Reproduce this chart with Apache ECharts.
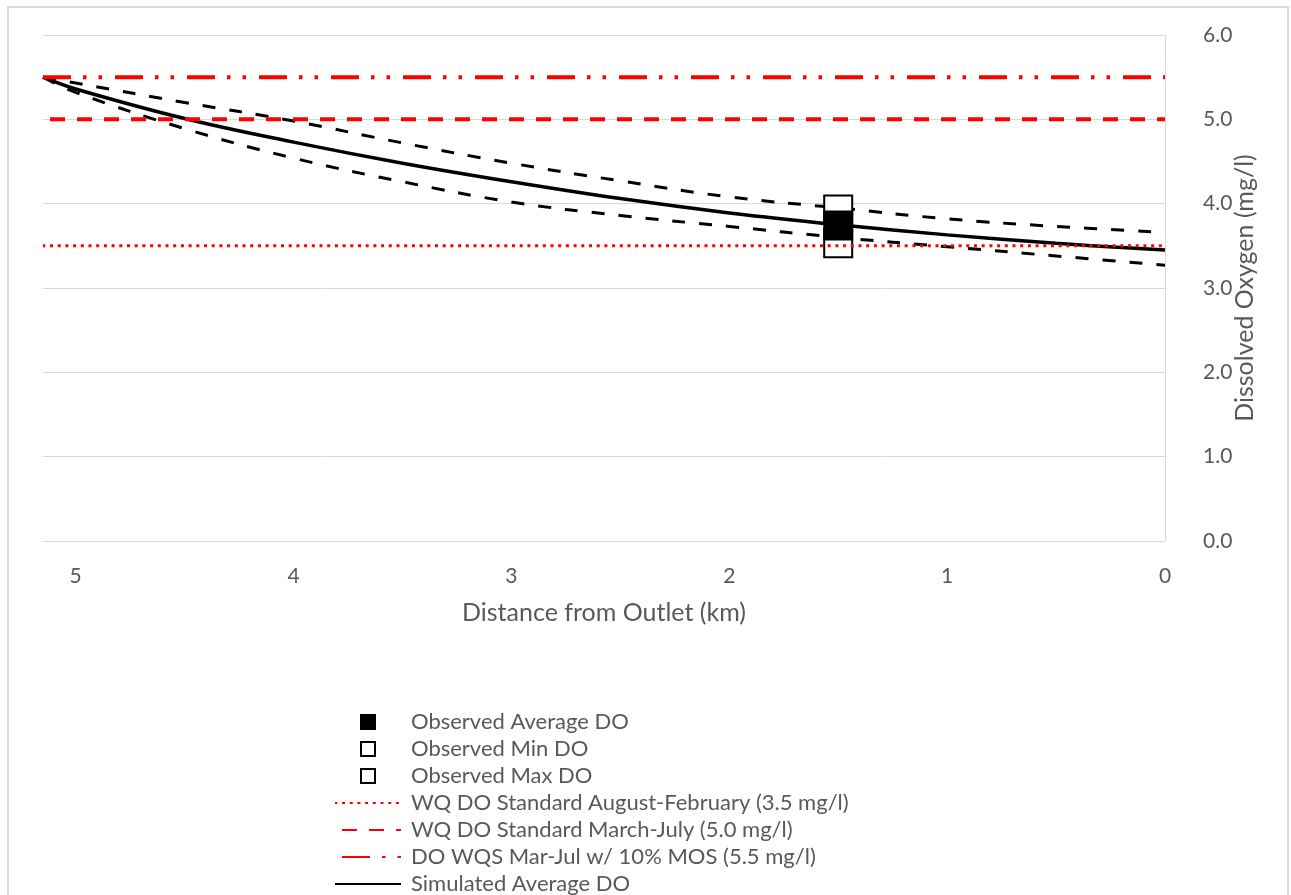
<!DOCTYPE html>
<html>
<head>
<meta charset="utf-8">
<script src="https://cdn.jsdelivr.net/npm/echarts@6/dist/echarts.min.js"></script>
<style>
  html, body { margin: 0; padding: 0; background: #ffffff; overflow: hidden; }
  #chart { width: 1291px; height: 960px; }
</style>
</head>
<body>
<div id="chart"></div>
<script>
// Distance from outlet (km) for the simulated profiles
const distances = [5.15, 5.0, 4.5, 4.0, 3.5, 3.0, 2.5, 2.0, 1.5, 1.0, 0.5, 0.0];
// Simulated dissolved oxygen (mg/l)
const simAverage = [5.50, 5.36, 5.01, 4.73, 4.48, 4.26, 4.06, 3.89, 3.75, 3.63, 3.53, 3.45];
const simUpper   = [5.50, 5.43, 5.20, 4.98, 4.72, 4.48, 4.27, 4.08, 3.95, 3.82, 3.73, 3.66];
const simLower   = [5.50, 5.32, 4.89, 4.54, 4.26, 4.02, 3.86, 3.73, 3.60, 3.49, 3.38, 3.27];

// Observed station
const obsDistance = 1.5;
const obsAverage = 3.74;
const obsMin = 3.53;
const obsMax = 3.93;

// Water-quality standards (mg/l)
const stdAugFeb = 3.5;
const stdMarJul = 5.0;
const stdMos = 5.5;
const xExtent = [0, 5.15];

const seriesNames = [
  'Observed Average DO',
  'Observed Min DO',
  'Observed Max DO',
  'WQ DO Standard August-February (3.5 mg/l)',
  'WQ DO Standard March-July (5.0 mg/l)',
  'DO WQS Mar-Jul w/ 10% MOS (5.5 mg/l)',
  'Simulated Average DO'
];

const pairs = (xs, ys) => xs.map((x, i) => [x, ys[i]]);
const flat = (v) => [[xExtent[1], v], [xExtent[0], v]];

const font = 'Lato, "Open Sans", sans-serif';
const grey = '#595959';
const gridGrey = '#d9d9d9';
const squareIcon = 'path://M0,0L10,0L10,10L0,10Z';
const noMarker = { color: 'rgba(0,0,0,0)', borderColor: 'rgba(0,0,0,0)', borderWidth: 0 };

const chart = echarts.init(document.getElementById('chart'), null, { renderer: 'canvas' });

chart.setOption({
  animation: false,
  backgroundColor: '#ffffff',
  graphic: [{
    type: 'rect',
    shape: { x: 8, y: 7, width: 1280, height: 1000 },
    style: { fill: 'none', stroke: gridGrey, lineWidth: 2 },
    silent: true, z: -1
  }],
  grid: { left: 43, right: 126, top: 35, bottom: 419, containLabel: false },
  xAxis: {
    type: 'value',
    inverse: true,
    min: xExtent[0],
    max: xExtent[1],
    interval: 1,
    name: 'Distance from Outlet (km)',
    nameLocation: 'middle',
    nameGap: 59,
    nameMoveOverlap: false,
    nameTextStyle: { color: grey, fontSize: 25, fontFamily: font },
    axisLine: { show: true, lineStyle: { color: gridGrey, width: 1 } },
    axisTick: { show: false },
    splitLine: { show: false },
    axisLabel: {
      color: grey, fontSize: 21, fontFamily: font, margin: 25,
      showMaxLabel: false,
      formatter: (v) => (Math.abs(v - Math.round(v)) < 1e-9 ? String(Math.round(v)) : '')
    }
  },
  yAxis: {
    type: 'value',
    position: 'right',
    min: 0,
    max: 6,
    interval: 1,
    name: 'Dissolved Oxygen (mg/l)',
    nameLocation: 'middle',
    nameRotate: 90,
    nameGap: 67,
    nameMoveOverlap: false,
    nameTextStyle: { color: grey, fontSize: 25, fontFamily: font },
    axisLine: { show: true, lineStyle: { color: gridGrey, width: 1 } },
    axisTick: { show: false },
    splitLine: { show: true, lineStyle: { color: gridGrey, width: 1 } },
    axisLabel: {
      color: grey, fontSize: 21, fontFamily: font, margin: 38,
      formatter: (v) => v.toFixed(1)
    }
  },
  legend: {
    orient: 'vertical',
    left: 329,
    top: 706,
    itemWidth: 66,
    itemHeight: 14,
    itemGap: 5,
    data: [
      { name: seriesNames[0], icon: squareIcon },
      { name: seriesNames[1], icon: squareIcon },
      { name: seriesNames[2], icon: squareIcon },
      seriesNames[3], seriesNames[4], seriesNames[5], seriesNames[6]
    ],
    textStyle: { color: grey, fontSize: 22, fontFamily: font, lineHeight: 22, padding: [0, 0, 0, 5] },
    selectedMode: false
  },
  series: [
    {
      name: 'Simulated Upper DO', type: 'line', data: pairs(distances, simUpper),
      smooth: 0.4, symbol: 'none', z: 2, itemStyle: noMarker,
      lineStyle: { color: '#000000', width: 3, type: [13, 14], cap: 'butt' }
    },
    {
      name: 'Simulated Lower DO', type: 'line', data: pairs(distances, simLower),
      smooth: 0.4, symbol: 'none', z: 2, itemStyle: noMarker,
      lineStyle: { color: '#000000', width: 3, type: [13, 14], cap: 'butt' }
    },
    {
      name: seriesNames[6], type: 'line', data: pairs(distances, simAverage),
      smooth: 0.4, symbol: 'none', z: 2, itemStyle: noMarker,
      lineStyle: { color: '#000000', width: 3.5 }
    },
    {
      name: seriesNames[1], type: 'scatter', data: [[obsDistance, obsMin]],
      symbol: 'rect', symbolSize: 28, z: 3,
      itemStyle: { color: '#ffffff', borderColor: '#000000', borderWidth: 2, opacity: 1 }
    },
    {
      name: seriesNames[2], type: 'scatter', data: [[obsDistance, obsMax]],
      symbol: 'rect', symbolSize: 28, z: 3,
      itemStyle: { color: '#ffffff', borderColor: '#000000', borderWidth: 2, opacity: 1 }
    },
    {
      name: seriesNames[0], type: 'scatter', data: [[obsDistance, obsAverage]],
      symbol: 'rect', symbolSize: 28, z: 3,
      itemStyle: { color: '#000000', borderColor: '#000000', borderWidth: 2, opacity: 1 }
    },
    {
      name: seriesNames[3], type: 'line', data: flat(stdAugFeb),
      symbol: 'none', z: 4, itemStyle: noMarker,
      lineStyle: { color: '#ff0000', width: 3, type: [3, 4.7], cap: 'butt', dashOffset: -7 }
    },
    {
      name: seriesNames[4], type: 'line', data: flat(stdMarJul),
      symbol: 'none', z: 4, itemStyle: noMarker,
      lineStyle: { color: '#ff0000', width: 4, type: [15, 12], cap: 'butt', dashOffset: -7 }
    },
    {
      name: seriesNames[5], type: 'line', data: flat(stdMos),
      symbol: 'none', z: 4, itemStyle: noMarker,
      lineStyle: { color: '#ff0000', width: 4, type: [28, 12, 3.5, 12, 3.5, 13], cap: 'butt' }
    }
  ]
});
</script>
</body>
</html>
